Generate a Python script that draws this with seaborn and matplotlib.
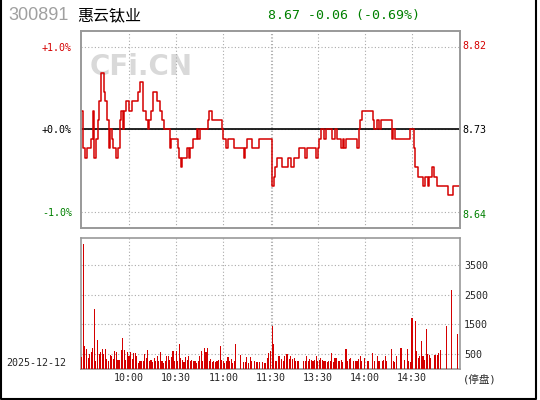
import numpy as np
import pandas as pd
import seaborn as sns
import matplotlib.pyplot as plt
from matplotlib.lines import Line2D

# data
code = "300891"
name = "惠云钛业"
quote = "8.67 -0.06 (-0.69%)"
trade_date = "2025-12-12"
prev_close = 8.73

price = [
    8.75, 8.71, 8.70, 8.71, 8.71, 8.71, 8.72, 8.75, 8.70, 8.72,
    8.74, 8.76, 8.79, 8.79, 8.77, 8.76, 8.74, 8.71, 8.73, 8.72,
    8.71, 8.71, 8.70, 8.71, 8.74, 8.75, 8.73, 8.75, 8.76, 8.76,
    8.75, 8.75, 8.76, 8.76, 8.76, 8.76, 8.77, 8.78, 8.78, 8.75,
    8.75, 8.74, 8.73, 8.74, 8.75, 8.77, 8.77, 8.77, 8.76, 8.76,
    8.75, 8.74, 8.73, 8.73, 8.73, 8.73, 8.71, 8.72, 8.72, 8.72,
    8.72, 8.71, 8.70, 8.69, 8.70, 8.70, 8.70, 8.71, 8.70, 8.71,
    8.71, 8.72, 8.72, 8.73, 8.72, 8.73, 8.73, 8.73, 8.73, 8.73,
    8.74, 8.75, 8.75, 8.74, 8.74, 8.74, 8.74, 8.74, 8.74, 8.73,
    8.72, 8.72, 8.71, 8.72, 8.72, 8.72, 8.72, 8.71, 8.71, 8.71,
    8.71, 8.71, 8.71, 8.70, 8.71, 8.72, 8.72, 8.72, 8.71, 8.71,
    8.71, 8.71, 8.71, 8.72, 8.72, 8.72, 8.72, 8.72, 8.72, 8.72,
    8.72, 8.67, 8.68, 8.69, 8.70, 8.70, 8.70, 8.69, 8.69, 8.69,
    8.69, 8.70, 8.70, 8.69, 8.69, 8.70, 8.70, 8.70, 8.71, 8.71,
    8.71, 8.71, 8.70, 8.71, 8.71, 8.71, 8.71, 8.71, 8.71, 8.70,
    8.71, 8.72, 8.73, 8.73, 8.72, 8.73, 8.73, 8.73, 8.73, 8.72,
    8.72, 8.73, 8.72, 8.72, 8.72, 8.71, 8.72, 8.71, 8.72, 8.72,
    8.72, 8.72, 8.72, 8.72, 8.72, 8.71, 8.73, 8.74, 8.75, 8.75,
    8.75, 8.75, 8.75, 8.75, 8.75, 8.74, 8.73, 8.73, 8.74, 8.73,
    8.74, 8.74, 8.74, 8.74, 8.74, 8.74, 8.74, 8.72, 8.73, 8.72,
    8.72, 8.72, 8.72, 8.72, 8.72, 8.72, 8.72, 8.72, 8.72, 8.73,
    8.73, 8.71, 8.69, 8.69, 8.68, 8.68, 8.68, 8.67, 8.68, 8.68,
    8.67, 8.68, 8.68, 8.69, 8.68, 8.68, 8.67, 8.67, 8.67, 8.67,
    8.67, 8.67, 8.67, 8.66, 8.66, 8.66, 8.67, 8.67, 8.67, 8.67, 8.67,
]

volume = [
    390, 4200, 760, 670, 370, 515, 560, 720, 2030, 260,
    985, 515, 580, 670, 515, 670, 335, 280, 480, 450,
    350, 615, 560, 315, 315, 650, 1050, 650, 315, 580,
    450, 580, 350, 540, 540, 450, 200, 280, 260, 280,
    505, 370, 650, 280, 315, 225, 370, 280, 450, 280,
    560, 260, 200, 280, 425, 450, 315, 390, 615, 280,
    615, 280, 850, 370, 315, 225, 390, 315, 450, 260,
    315, 260, 260, 200, 280, 450, 615, 260, 705, 560,
    710, 280, 350, 225, 280, 225, 280, 315, 785, 315,
    260, 200, 280, 390, 260, 350, 200, 280, 850, 0,
    0, 480, 0, 225, 225, 390, 200, 390, 280, 0,
    280, 225, 225, 225, 0, 225, 200, 200, 370, 540,
    610, 1460, 850, 280, 280, 425, 425, 350, 280, 425,
    520, 520, 350, 425, 350, 370, 280, 280, 280, 0,
    0, 280, 280, 425, 280, 350, 315, 280, 315, 425,
    280, 315, 370, 315, 260, 260, 225, 280, 280, 540,
    225, 370, 370, 260, 260, 315, 225, 0, 670, 260,
    350, 370, 0, 260, 260, 260, 350, 450, 260, 0,
    370, 0, 260, 0, 0, 540, 280, 0, 425, 260,
    0, 280, 315, 425, 280, 0, 0, 670, 280, 225,
    450, 0, 0, 705, 0, 315, 0, 670, 260, 225,
    1710, 0, 1630, 590, 380, 450, 950, 440, 300, 1350,
    520, 470, 370, 0, 460, 460, 480, 550, 650, 0,
    0, 0, 1460, 0, 0, 2660, 0, 0, 0, 1190, 0,
]

time_ticks = [30, 60, 90, 120, 150, 180, 210]
time_labels = ["10:00", "10:30", "11:00", "11:30", "13:30", "14:00", "14:30"]
pct_ticks = [-1.0, 0.0, 1.0]
pct_labels = ["-1.0%", "+0.0%", "+1.0%"]
price_ticks = [8.64, 8.73, 8.82]
vol_ticks = [500, 1500, 2500, 3500]

RED = "#d40000"
GREEN = "#008000"
GRID = "#aaaaaa"
SPINE = "#999999"

minutes = np.arange(len(price))
df = pd.DataFrame({
    "minute": minutes,
    "pct": (np.array(price) - prev_close) / prev_close * 100,
    "volume": volume,
})

sns.set_theme(style="white")
plt.rcParams["font.family"] = ["DejaVu Sans Mono", "Noto Sans CJK SC"]
plt.rcParams["font.size"] = 7.2

W, H = 540, 400
fig = plt.figure(figsize=(W / 100, H / 100), dpi=100)
fig.patch.set_facecolor("white")
ax1 = fig.add_axes([81 / W, 1 - 228 / H, 379 / W, 197 / H])
ax2 = fig.add_axes([81 / W, 1 - 369 / H, 379 / W, 131 / H])

# price panel
sns.lineplot(data=df, x="minute", y="pct", drawstyle="steps-post",
             color=RED, lw=1.1, ax=ax1, zorder=3)
ax1.axhline(0, color="black", lw=1.2, zorder=2)
ax1.set_xlim(-0.5, 240.5)
ax1.set_ylim(-1.2, 1.2)
ax1.set_xticks(time_ticks)
ax1.set_xticklabels([])
ax1.set_yticks(pct_ticks)
ax1.set_yticklabels(pct_labels)
for lab, c in zip(ax1.get_yticklabels(), [GREEN, "black", RED]):
    lab.set_color(c)
ax1.tick_params(length=0, pad=6.5, labelsize=7.2)
ax1.set_xlabel("")
ax1.set_ylabel("")
ax1.grid(True, linestyle=(0, (1, 2)), color=GRID, lw=0.8)
ax1.axvline(121, linestyle=(0, (1, 2)), color=GRID, lw=0.8, zorder=1)
ax1.text(90 / W, 1 - 75 / H, "CFi.CN", transform=fig.transFigure,
         fontsize=20, fontweight="bold", color="#d9d9d9",
         family="DejaVu Sans", va="baseline", zorder=0)

ax1r = ax1.twinx()
ax1r.set_ylim(prev_close * (1 - 0.012), prev_close * (1 + 0.012))
ax1r.set_yticks(price_ticks)
ax1r.set_yticklabels([f"{p:.2f}" for p in price_ticks])
for lab, c in zip(ax1r.get_yticklabels(), [GREEN, "black", RED]):
    lab.set_color(c)
ax1r.tick_params(length=0, pad=1.5, labelsize=7.2)
ax1r.grid(False)

# volume panel
sns.barplot(data=df, x="minute", y="volume", native_scale=True, color=RED,
            saturation=1, width=0.7, linewidth=0, ax=ax2, zorder=3)
ax2.set_xlim(-0.5, 240.5)
ax2.set_ylim(0, 4409)
ax2.set_xticks(time_ticks)
ax2.set_xticklabels(time_labels)
ax2.yaxis.tick_right()
ax2.set_yticks(vol_ticks)
ax2.set_yticklabels([str(v) for v in vol_ticks])
ax2.tick_params(length=0, labelsize=7.2)
ax2.tick_params(axis="y", pad=3)
ax2.tick_params(axis="x", pad=3)
ax2.set_xlabel("")
ax2.set_ylabel("")
ax2.grid(True, linestyle=(0, (1, 2)), color=GRID, lw=0.8)
ax2.axvline(121, linestyle=(0, (1, 2)), color=GRID, lw=0.8, zorder=1)
ax2.set_axisbelow(True)

for ax in (ax1, ax1r, ax2):
    for sp in ax.spines.values():
        sp.set_color(SPINE)
        sp.set_linewidth(1.2)

# header and side texts
fig.text(8 / W, 1 - 16 / H, code, color="#a0a0a0", fontsize=13,
         family="Liberation Sans", va="center")
fig.text(77 / W, 1 - 16 / H, name, color="black", fontsize=11.5,
         family="Noto Sans CJK SC", va="center")
fig.text(268 / W, 1 - 16 / H, quote, color=GREEN, fontsize=9.5,
         family="DejaVu Sans Mono", va="center")
fig.text(66 / W, 1 - 363 / H, trade_date, fontsize=7.2, ha="right", va="center")
fig.text(463 / W, 1 - 380 / H, "(停盘)", fontsize=7.6, va="center",
         family=["DejaVu Sans Mono", "Noto Sans CJK SC"])

# outer frame
fig.add_artist(Line2D([1 / W, 1 / W, 536 / W, 536 / W], [1, 1 / H, 1 / H, 1],
                      transform=fig.transFigure, color="black", lw=1.5))

fig.savefig("out.png", dpi=100)
